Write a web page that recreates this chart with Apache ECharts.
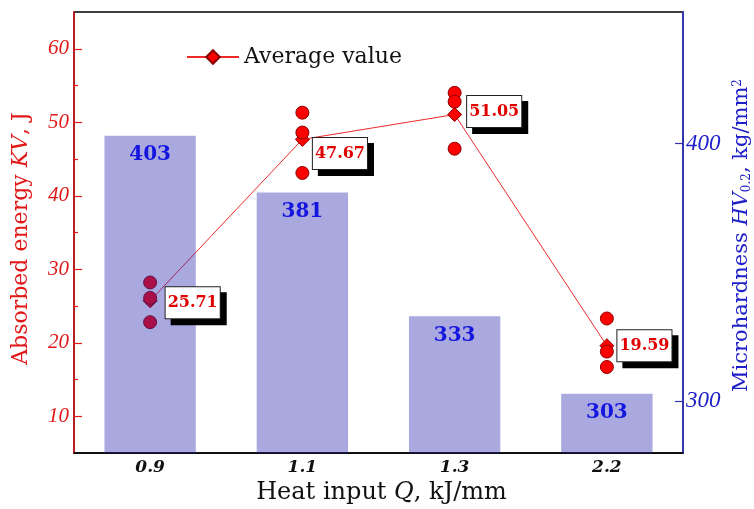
<!DOCTYPE html>
<html>
<head>
<meta charset="utf-8">
<script src="https://cdn.jsdelivr.net/npm/echarts@6/dist/echarts.min.js"></script>
<style>
html,body{margin:0;padding:0;background:#fff;overflow:hidden;}
#chart{width:754px;height:509px;}
</style>
</head>
<body>
<div id="chart"></div>
<script>
// ---- data ----
var categories = ['0.9', '1.1', '1.3', '2.2'];
var averageEnergy = [25.71, 47.67, 51.05, 19.59];
var trialEnergy1 = [28.2, 51.3, 54.0, 23.3];
var trialEnergy2 = [26.1, 48.6, 52.8, 18.8];
var trialEnergy3 = [22.8, 43.1, 46.4, 16.7];
var hardness = [403, 381, 333, 303];
var leftTicks = [10, 20, 30, 40, 50, 60];
var leftMinorTicks = [15, 25, 35, 45, 55];
var rightTicks = [300, 400];

// ---- styles (label nudges for the value boxes) ----
var labelNudges = [[15, 2], [10, 14], [12, -3], [10, 0]];
var shadowShift = 6;

var serif = 'DejaVu Serif';
var numFont = 'Liberation Serif';

var trialPoints = [];
[trialEnergy1, trialEnergy2, trialEnergy3].forEach(function (arr) {
  arr.forEach(function (v, i) { trialPoints.push([i, v]); });
});

function labelData(shift) {
  return averageEnergy.map(function (v, i) {
    return {
      value: [i, v],
      label: { offset: [labelNudges[i][0] + shift, labelNudges[i][1] + shift] }
    };
  });
}

var boxLabel = {
  show: true, position: 'right', distance: 0, opacity: 1,
  formatter: function (p) { return p.value[1].toFixed(2); },
  fontFamily: serif, fontWeight: 'bold', fontSize: 16, color: '#e00000',
  backgroundColor: '#ffffff', borderColor: '#222', borderWidth: 1,
  padding: [8, 2, 7, 2]
};
var shadowLabel = Object.assign({}, boxLabel, {
  color: '#000', backgroundColor: '#000', borderColor: '#000'
});

var chart = echarts.init(document.getElementById('chart'), null, { renderer: 'canvas', width: 754, height: 509 });

var option = {
  animation: false,
  backgroundColor: '#fff',
  grid: {
    left: 74, right: 71, top: 12, bottom: 56,
    outerBoundsMode: 'none', containLabel: false,
    show: true, borderColor: '#000', borderWidth: 1.5, backgroundColor: 'transparent'
  },
  legend: {
    data: ['Average value'],
    left: 181, top: 41,
    itemWidth: 52, itemHeight: 17, itemGap: 9,
    textStyle: { fontFamily: serif, fontSize: 22, color: '#111' }
  },
  xAxis: {
    type: 'category',
    data: categories,
    boundaryGap: true,
    axisLine: { lineStyle: { color: '#000', width: 1.5 } },
    axisTick: { show: false },
    axisLabel: { fontFamily: serif, fontStyle: 'italic', fontWeight: 'bold', fontSize: 17, color: '#111', margin: 6 },
    name: 'Heat input {i|Q}, kJ/mm',
    nameLocation: 'middle',
    nameMoveOverlap: false,
    nameGap: 28,
    nameTextStyle: {
      fontFamily: serif, fontSize: 24, color: '#111', padding: [0, 0, 0, 6],
      rich: { i: { fontFamily: serif, fontStyle: 'italic', fontSize: 24, color: '#111' } }
    }
  },
  yAxis: [
    {
      type: 'value', position: 'left', min: 5, max: 65, interval: 5,
      axisLine: { show: true, lineStyle: { color: '#e01818', width: 1.5 } },
      axisTick: { show: true, inside: true, length: 8, customValues: leftTicks, lineStyle: { color: '#e01818', width: 1.2 } },
      axisLabel: { customValues: leftTicks, fontFamily: numFont, fontStyle: 'italic', fontSize: 21, color: '#e01818', margin: 5 },
      splitLine: { show: false },
      name: 'Absorbed energy {i|KV}, J',
      nameLocation: 'middle',
      nameGap: 42,
      nameTextStyle: {
        fontFamily: serif, fontSize: 22, color: '#e01818', padding: [0, 12, 0, 0],
        rich: { i: { fontFamily: serif, fontStyle: 'italic', fontSize: 22, color: '#e01818' } }
      }
    },
    {
      type: 'value', position: 'right', min: 280, max: 451, interval: 10,
      axisLine: { show: true, lineStyle: { color: '#3535b0', width: 2 } },
      axisTick: { show: true, inside: true, length: 8, customValues: rightTicks, lineStyle: { color: '#3535b0', width: 1.2 } },
      axisLabel: { customValues: rightTicks, fontFamily: numFont, fontStyle: 'italic', fontSize: 23, color: '#2020c8', margin: 3 },
      splitLine: { show: false },
      name: 'Microhardness {i|HV}{sub|0.2}, kg/mm{sup|2}',
      nameLocation: 'middle',
      nameGap: 47,
      nameTextStyle: {
        fontFamily: serif, fontSize: 21, color: '#2020c8', padding: [0, 6, 0, 0],
        rich: {
          i: { fontFamily: serif, fontStyle: 'italic', fontSize: 21, color: '#2020c8' },
          sub: { fontFamily: serif, fontSize: 12, color: '#2020c8', verticalAlign: 'bottom', lineHeight: 12 },
          sup: { fontFamily: serif, fontSize: 12, color: '#2020c8', verticalAlign: 'top', lineHeight: 12 }
        }
      }
    },
    {
      type: 'value', position: 'left', min: 5, max: 65, interval: 5,
      axisLine: { show: false },
      axisTick: { show: true, inside: true, length: 4, customValues: leftMinorTicks, lineStyle: { color: '#e01818', width: 1.2 } },
      axisLabel: { show: false },
      splitLine: { show: false }
    }
  ],
  series: [
    {
      name: 'Average value',
      type: 'line',
      yAxisIndex: 0,
      data: averageEnergy,
      symbol: 'diamond',
      symbolSize: 14,
      lineStyle: { color: '#ee2a2a', width: 1 },
      itemStyle: { color: '#ff0000', borderColor: '#8a0000', borderWidth: 1 },
      z: 2
    },
    {
      name: 'Trials',
      type: 'scatter',
      yAxisIndex: 0,
      data: trialPoints,
      symbol: 'circle',
      symbolSize: 13,
      itemStyle: { color: '#ff0000', borderColor: '#8a0000', borderWidth: 1, opacity: 1 },
      z: 2
    },
    {
      name: 'Hardness',
      type: 'bar',
      yAxisIndex: 1,
      data: hardness,
      barWidth: '60%',
      itemStyle: { color: 'rgba(40,40,178,0.4)' },
      label: {
        show: true, position: 'insideTop', distance: 9,
        fontFamily: serif, fontWeight: 'bold', fontSize: 20, color: '#1515e0'
      },
      z: 5
    },
    {
      name: 'LabelShadows',
      type: 'scatter',
      yAxisIndex: 0,
      data: labelData(shadowShift),
      symbolSize: 1,
      itemStyle: { color: 'rgba(0,0,0,0)', opacity: 1 },
      label: shadowLabel,
      z: 9
    },
    {
      name: 'Labels',
      type: 'scatter',
      yAxisIndex: 0,
      data: labelData(0),
      symbolSize: 1,
      itemStyle: { color: 'rgba(0,0,0,0)', opacity: 1 },
      label: boxLabel,
      z: 10
    }
  ]
};
chart.setOption(option);
</script>
</body>
</html>
